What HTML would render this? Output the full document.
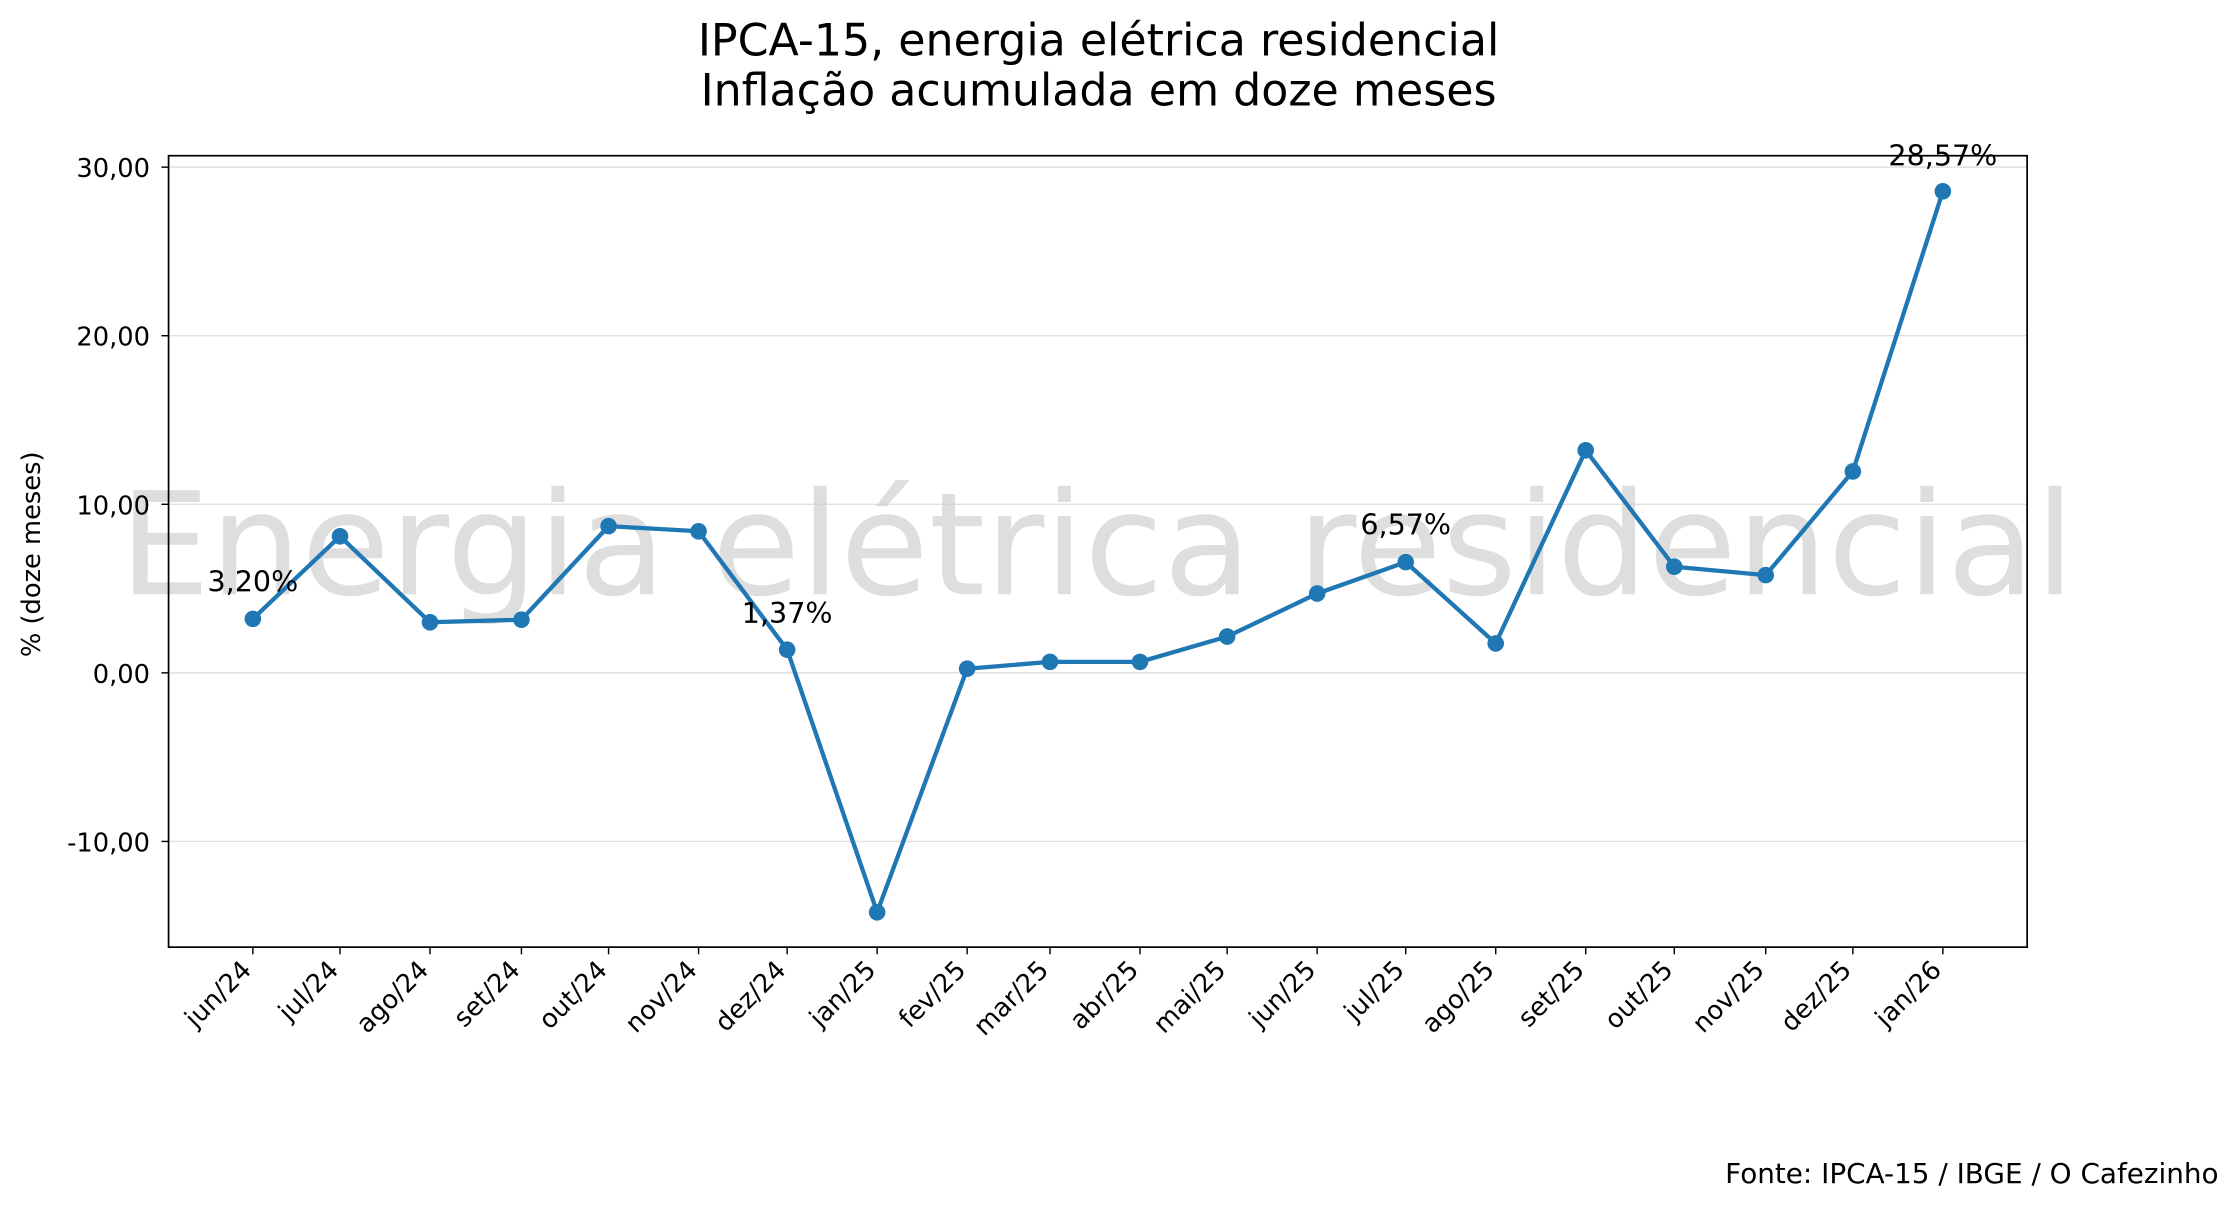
<!DOCTYPE html>
<html><head><meta charset="utf-8"><style>html,body{margin:0;padding:0;background:#fff}</style></head><body>
<svg width="2240" height="1208" viewBox="0 0 1568 845.6" xmlns="http://www.w3.org/2000/svg" font-family="'DejaVu Sans','Liberation Sans',sans-serif">
<rect width="1568" height="845.6" fill="#fff"/>
<text x="769" y="39" font-size="31" text-anchor="middle" fill="#000">IPCA-15, energia elétrica residencial</text>
<text x="769" y="74" font-size="31" text-anchor="middle" fill="#000">Inflação acumulada em doze meses</text>
<g stroke="#e0e0e0" stroke-width="1">
<line x1="118" x2="1419" y1="117" y2="117"/><line x1="118" x2="1419" y1="235" y2="235"/><line x1="118" x2="1419" y1="353" y2="353"/><line x1="118" x2="1419" y1="471" y2="471"/><line x1="118" x2="1419" y1="589" y2="589"/>
</g>
<text x="768" y="416" font-size="100" text-anchor="middle" fill="#d0d0d0" fill-opacity="0.7" textLength="1369" lengthAdjust="spacingAndGlyphs">Energia elétrica residencial</text>
<rect x="118" y="109" width="1301" height="554" fill="none" stroke="#000" stroke-width="1.2"/>
<g stroke="#000"><line x1="113" x2="118" y1="117" y2="117"/><line x1="113" x2="118" y1="235" y2="235"/><line x1="113" x2="118" y1="353" y2="353"/><line x1="113" x2="118" y1="471" y2="471"/><line x1="113" x2="118" y1="589" y2="589"/></g>
<g font-size="18" text-anchor="end" fill="#000">
<text x="105" y="124">30,00</text><text x="105" y="242">20,00</text><text x="105" y="360">10,00</text><text x="105" y="478">0,00</text><text x="105" y="596">-10,00</text>
</g>
<text transform="translate(28,388) rotate(-90)" font-size="18" text-anchor="middle">% (doze meses)</text>
<g stroke="#000">
<line x1="177" x2="177" y1="663" y2="668"/><line x1="238" x2="238" y1="663" y2="668"/><line x1="301" x2="301" y1="663" y2="668"/><line x1="365" x2="365" y1="663" y2="668"/><line x1="426" x2="426" y1="663" y2="668"/><line x1="489" x2="489" y1="663" y2="668"/><line x1="551" x2="551" y1="663" y2="668"/><line x1="614" x2="614" y1="663" y2="668"/><line x1="677" x2="677" y1="663" y2="668"/><line x1="735" x2="735" y1="663" y2="668"/><line x1="798" x2="798" y1="663" y2="668"/><line x1="859" x2="859" y1="663" y2="668"/><line x1="922" x2="922" y1="663" y2="668"/><line x1="984" x2="984" y1="663" y2="668"/><line x1="1047" x2="1047" y1="663" y2="668"/><line x1="1110" x2="1110" y1="663" y2="668"/><line x1="1172" x2="1172" y1="663" y2="668"/><line x1="1236" x2="1236" y1="663" y2="668"/><line x1="1297" x2="1297" y1="663" y2="668"/><line x1="1360" x2="1360" y1="663" y2="668"/>
</g>
<g font-size="18" text-anchor="end" fill="#000">
<text transform="translate(177,680) rotate(-45)">jun/24</text>
<text transform="translate(238,680) rotate(-45)">jul/24</text>
<text transform="translate(301,680) rotate(-45)">ago/24</text>
<text transform="translate(365,680) rotate(-45)">set/24</text>
<text transform="translate(426,680) rotate(-45)">out/24</text>
<text transform="translate(489,680) rotate(-45)">nov/24</text>
<text transform="translate(551,680) rotate(-45)">dez/24</text>
<text transform="translate(614,680) rotate(-45)">jan/25</text>
<text transform="translate(677,680) rotate(-45)">fev/25</text>
<text transform="translate(735,680) rotate(-45)">mar/25</text>
<text transform="translate(798,680) rotate(-45)">abr/25</text>
<text transform="translate(859,680) rotate(-45)">mai/25</text>
<text transform="translate(922,680) rotate(-45)">jun/25</text>
<text transform="translate(984,680) rotate(-45)">jul/25</text>
<text transform="translate(1047,680) rotate(-45)">ago/25</text>
<text transform="translate(1110,680) rotate(-45)">set/25</text>
<text transform="translate(1172,680) rotate(-45)">out/25</text>
<text transform="translate(1236,680) rotate(-45)">nov/25</text>
<text transform="translate(1297,680) rotate(-45)">dez/25</text>
<text transform="translate(1360,680) rotate(-45)">jan/26</text>
</g>
<polyline fill="none" stroke="#1f77b4" stroke-width="3" stroke-linejoin="round" points="177,433.2 238,375.4 301,435.6 365,433.8 426,368.3 489,371.9 551,454.8 614,638.6 677,468.1 735,463.3 798,463.3 859,445.6 922,415.5 984,393.5 1047,450.4 1110,315.2 1172,396.7 1236,402.6 1297,330 1360,133.9"/>
<g fill="#1f77b4">
<circle cx="177" cy="433.2" r="5.8"/><circle cx="238" cy="375.4" r="5.8"/><circle cx="301" cy="435.6" r="5.8"/><circle cx="365" cy="433.8" r="5.8"/><circle cx="426" cy="368.3" r="5.8"/><circle cx="489" cy="371.9" r="5.8"/><circle cx="551" cy="454.8" r="5.8"/><circle cx="614" cy="638.6" r="5.8"/><circle cx="677" cy="468.1" r="5.8"/><circle cx="735" cy="463.3" r="5.8"/><circle cx="798" cy="463.3" r="5.8"/><circle cx="859" cy="445.6" r="5.8"/><circle cx="922" cy="415.5" r="5.8"/><circle cx="984" cy="393.5" r="5.8"/><circle cx="1047" cy="450.4" r="5.8"/><circle cx="1110" cy="315.2" r="5.8"/><circle cx="1172" cy="396.7" r="5.8"/><circle cx="1236" cy="402.6" r="5.8"/><circle cx="1297" cy="330" r="5.8"/><circle cx="1360" cy="133.9" r="5.8"/>
</g>
<g font-size="20" text-anchor="middle" fill="#000">
<text x="177" y="414">3,20%</text><text x="551" y="436">1,37%</text><text x="984" y="374">6,57%</text><text x="1360" y="116">28,57%</text>
</g>
<text x="1553" y="828" font-size="19.5" text-anchor="end">Fonte: IPCA-15 / IBGE / O Cafezinho</text>
</svg>
</body></html>
